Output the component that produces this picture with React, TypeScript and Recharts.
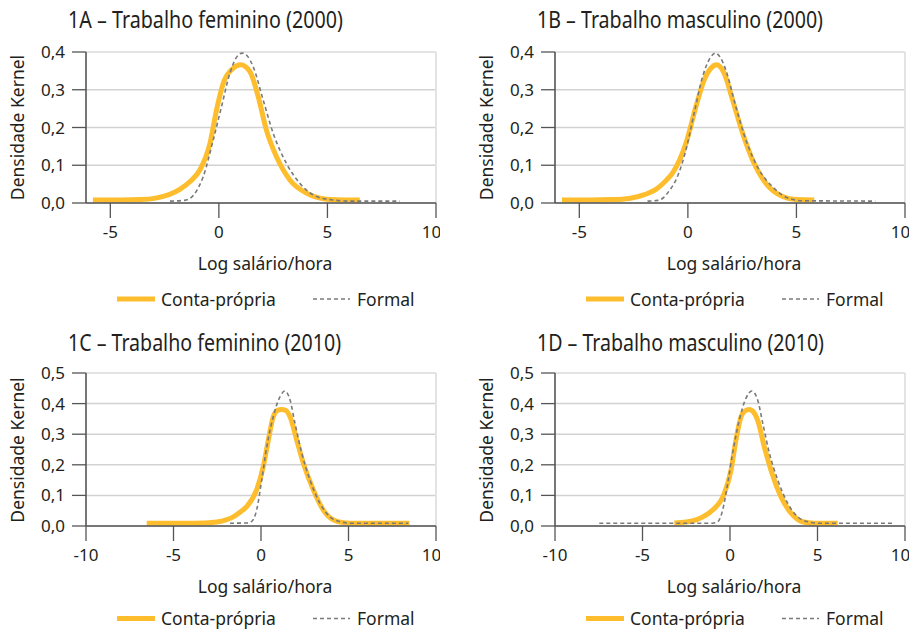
import { CartesianGrid, Line, LineChart, ReferenceLine, XAxis, YAxis } from "recharts";

type Pair = [number, number];

const FONT = "'Noto Sans', 'Open Sans', sans-serif";
const ORANGE = "#fdbd2c";
const GREY = "#7a7a7a";
const AXIS = "#555555";
const INK = "#231f20";

const xTicks2000 = [-5, 0, 5, 10];
const xTicks2010 = [-10, -5, 0, 5, 10];
const yTicks2000 = [0, 0.1, 0.2, 0.3, 0.4];
const yTicks2010 = [0, 0.1, 0.2, 0.3, 0.4, 0.5];

const seriesNames = ["Conta-própria", "Formal"];

// 1A - feminino 2000
const conta1A: Pair[] = [
  [-5.8, 0.008], [-4.5, 0.008], [-3.6, 0.009], [-2.9, 0.013], [-2.3, 0.022], [-1.8, 0.036],
  [-1.3, 0.058], [-0.87, 0.088], [-0.41, 0.158], [-0.11, 0.246], [0.2, 0.317], [0.66, 0.357],
  [1.0, 0.366], [1.43, 0.348], [1.81, 0.282], [2.19, 0.193], [2.65, 0.123], [3.27, 0.061],
  [4.04, 0.026], [4.96, 0.01], [5.8, 0.008], [6.49, 0.008],
];
const formal1A: Pair[] = [
  [-2.25, 0.005], [-1.6, 0.007], [-1.33, 0.012], [-1.0, 0.035], [-0.72, 0.07], [-0.26, 0.167],
  [0.12, 0.255], [0.51, 0.344], [0.8, 0.385], [1.07, 0.397], [1.3, 0.39], [1.58, 0.361],
  [2.04, 0.273], [2.5, 0.185], [3.11, 0.105], [3.73, 0.052], [4.5, 0.017], [5.25, 0.008],
  [6.0, 0.005], [8.33, 0.005],
];

// 1B - masculino 2000
const conta1B: Pair[] = [
  [-5.8, 0.008], [-4.5, 0.008], [-3.5, 0.009], [-2.7, 0.012], [-2.0, 0.022], [-1.47, 0.036],
  [-1.0, 0.06], [-0.7, 0.08], [-0.09, 0.158], [0.37, 0.255], [0.75, 0.326], [1.06, 0.357],
  [1.32, 0.366], [1.67, 0.344], [2.06, 0.273], [2.52, 0.185], [2.98, 0.114], [3.59, 0.052],
  [4.36, 0.017], [4.98, 0.009], [5.82, 0.008],
];
const formal1B: Pair[] = [
  [-1.86, 0.005], [-1.4, 0.007], [-1.17, 0.012], [-0.85, 0.033], [-0.55, 0.061], [-0.09, 0.14],
  [0.29, 0.238], [0.68, 0.335], [1.0, 0.382], [1.29, 0.397], [1.5, 0.385], [1.75, 0.352],
  [2.21, 0.255], [2.67, 0.167], [3.29, 0.087], [3.9, 0.043], [4.67, 0.012], [5.3, 0.006],
  [8.63, 0.005],
];

// 1C - feminino 2010
const conta1C: Pair[] = [
  [-6.53, 0.009], [-4.5, 0.009], [-3.2, 0.01], [-2.53, 0.013], [-2.0, 0.02], [-1.58, 0.03],
  [-1.2, 0.045], [-0.82, 0.063], [-0.25, 0.118], [0.13, 0.194], [0.42, 0.281], [0.7, 0.357],
  [0.95, 0.378], [1.18, 0.381], [1.4, 0.378], [1.66, 0.357], [2.04, 0.281], [2.42, 0.205],
  [2.99, 0.118], [3.56, 0.052], [4.13, 0.02], [4.7, 0.011], [5.5, 0.009], [8.48, 0.009],
];
const formal1C: Pair[] = [
  [-1.77, 0.009], [-0.8, 0.01], [-0.53, 0.015], [-0.25, 0.052], [0.04, 0.15], [0.33, 0.259],
  [0.7, 0.357], [1.09, 0.423], [1.37, 0.441], [1.66, 0.412], [1.94, 0.336], [2.33, 0.238],
  [2.8, 0.15], [3.37, 0.074], [3.94, 0.03], [4.51, 0.014], [5.2, 0.009], [8.42, 0.009],
];

// 1D - masculino 2010
const conta1D: Pair[] = [
  [-3.18, 0.01], [-2.5, 0.013], [-1.94, 0.02], [-1.45, 0.033], [-0.99, 0.052], [-0.32, 0.107],
  [0.06, 0.183], [0.34, 0.281], [0.63, 0.357], [0.85, 0.376], [1.1, 0.381], [1.35, 0.372],
  [1.58, 0.346], [1.96, 0.259], [2.34, 0.183], [2.91, 0.096], [3.49, 0.042], [4.15, 0.014],
  [4.8, 0.009], [6.15, 0.009],
];
const formal1D: Pair[] = [
  [-7.47, 0.009], [-1.0, 0.009], [-0.7, 0.014], [-0.42, 0.052], [-0.13, 0.14], [0.15, 0.238],
  [0.53, 0.346], [0.91, 0.417], [1.24, 0.441], [1.58, 0.412], [1.87, 0.336], [2.25, 0.238],
  [2.73, 0.15], [3.3, 0.074], [3.87, 0.03], [4.44, 0.014], [5.1, 0.009], [9.3, 0.009],
];

const toPoints = (pairs: Pair[]) => pairs.map(([x, y]) => ({ x, y }));
const fmtComma = (v: number) => v.toFixed(1).replace(".", ",");

type PanelProps = {
  left: number;
  top: number;
  title: string;
  titleWidth: number;
  conta: Pair[];
  formal: Pair[];
  xDomain: [number, number];
  xTicks: number[];
  yTicks: number[];
  plotTop: number;
  plotBottom: number;
  shift: number;
  legendY: number;
};

function Panel(p: PanelProps) {
  const yMax = p.yTicks[p.yTicks.length - 1];
  const axisH = 48;
  return (
    <div style={{ position: "absolute", left: p.left, top: p.top, width: 458, height: 320 }}>
      <LineChart
        width={440}
        height={p.plotBottom + axisH}
        margin={{ top: p.plotTop, right: 4, bottom: 0, left: 0 }}
      >
        <CartesianGrid vertical={false} stroke="#d2d2d2" strokeWidth={1.5} />
        <ReferenceLine y={yMax} stroke="#e3e3e3" strokeWidth={2} />
        <ReferenceLine x={p.xDomain[1]} stroke="#e3e3e3" strokeWidth={2} />
        <XAxis
          type="number"
          dataKey="x"
          domain={p.xDomain}
          ticks={p.xTicks}
          allowDataOverflow
          height={axisH}
          axisLine={{ stroke: AXIS, strokeWidth: 1.6 }}
          tickLine={{ stroke: AXIS, strokeWidth: 1.3 }}
          tickSize={15}
          tickMargin={8}
          tick={{ fill: INK, fontSize: 17, fontFamily: FONT }}
        />
        <YAxis
          type="number"
          domain={[0, yMax]}
          ticks={p.yTicks}
          width={86}
          axisLine={{ stroke: AXIS, strokeWidth: 1.6 }}
          tickLine={{ stroke: AXIS, strokeWidth: 1.3 }}
          tickSize={14}
          tickMargin={7}
          tickFormatter={fmtComma}
          tick={{ fill: INK, fontSize: 17, fontFamily: FONT }}
        />
        <Line
          data={toPoints(p.conta)}
          dataKey="y"
          name={seriesNames[0]}
          type="monotone"
          stroke={ORANGE}
          strokeWidth={5}
          dot={false}
          activeDot={false}
          isAnimationActive={false}
        />
        <Line
          data={toPoints(p.formal)}
          dataKey="y"
          name={seriesNames[1]}
          type="monotone"
          stroke={GREY}
          strokeWidth={1.6}
          strokeDasharray="4 3"
          dot={false}
          activeDot={false}
          isAnimationActive={false}
        />
      </LineChart>
      <svg
        width={458}
        height={320}
        style={{ position: "absolute", left: 0, top: 0, pointerEvents: "none", fontFamily: FONT }}
      >
        <text
          x={68}
          y={28.3 + p.shift}
          fontSize={23}
          fill={INK}
          textLength={p.titleWidth}
          lengthAdjust="spacingAndGlyphs"
        >
          {p.title}
        </text>
        <text
          x={16.5}
          y={127.5 + p.shift}
          fontSize={17.5}
          fill={INK}
          textAnchor="middle"
          dominantBaseline="central"
          transform={`rotate(-90 16.5 ${127.5 + p.shift})`}
        >
          Densidade Kernel
        </text>
        <text x={265} y={270 + p.shift} fontSize={17.5} fill={INK} textAnchor="middle">
          Log salário/hora
        </text>
        <line x1={117} x2={155} y1={p.legendY} y2={p.legendY} stroke={ORANGE} strokeWidth={5} />
        <text x={161} y={p.legendY + 6.5} fontSize={17.5} fill={INK}>
          {seriesNames[0]}
        </text>
        <line
          x1={313}
          x2={350}
          y1={p.legendY}
          y2={p.legendY}
          stroke={GREY}
          strokeWidth={1.6}
          strokeDasharray="4 3"
        />
        <text x={357} y={p.legendY + 6.5} fontSize={17.5} fill={INK}>
          {seriesNames[1]}
        </text>
      </svg>
    </div>
  );
}

export default function App() {
  return (
    <div style={{ position: "absolute", left: 0, top: 0, width: 916, height: 630, background: "#fff", overflow: "hidden" }}>
      <Panel
        left={0}
        top={0}
        title="1A – Trabalho feminino (2000)"
        titleWidth={275}
        conta={conta1A}
        formal={formal1A}
        xDomain={[-6.12, 10]}
        xTicks={xTicks2000}
        yTicks={yTicks2000}
        plotTop={52}
        plotBottom={203}
        shift={0}
        legendY={299}
      />
      <Panel
        left={469}
        top={0}
        title="1B – Trabalho masculino (2000)"
        titleWidth={286}
        conta={conta1B}
        formal={formal1B}
        xDomain={[-6.12, 10]}
        xTicks={xTicks2000}
        yTicks={yTicks2000}
        plotTop={52}
        plotBottom={203}
        shift={0}
        legendY={299}
      />
      <Panel
        left={0}
        top={320}
        title="1C – Trabalho feminino (2010)"
        titleWidth={273}
        conta={conta1C}
        formal={formal1C}
        xDomain={[-10, 10]}
        xTicks={xTicks2010}
        yTicks={yTicks2010}
        plotTop={53}
        plotBottom={206}
        shift={2.5}
        legendY={298.5}
      />
      <Panel
        left={469}
        top={320}
        title="1D – Trabalho masculino (2010)"
        titleWidth={287}
        conta={conta1D}
        formal={formal1D}
        xDomain={[-10, 10]}
        xTicks={xTicks2010}
        yTicks={yTicks2010}
        plotTop={53}
        plotBottom={206}
        shift={2.5}
        legendY={298.5}
      />
    </div>
  );
}
